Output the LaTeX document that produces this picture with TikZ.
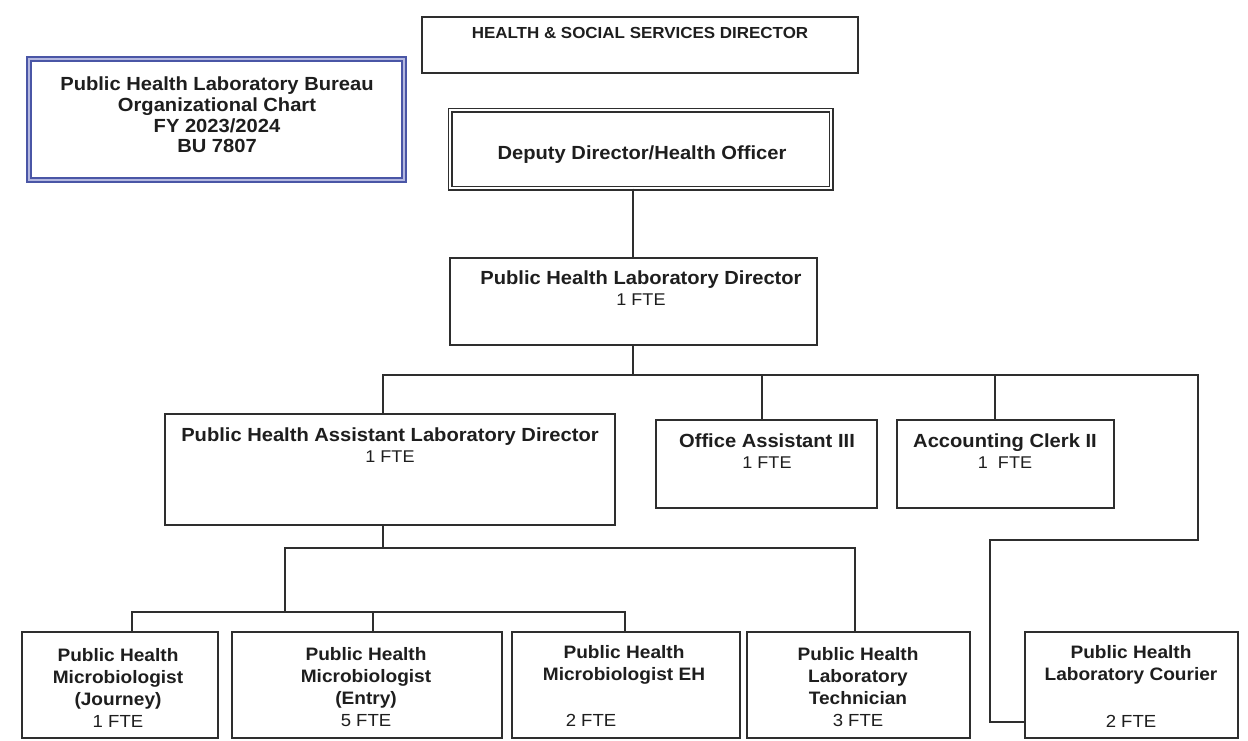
\documentclass[tikz,border=0pt]{standalone}
\usepackage{fontspec}
\setmainfont{Liberation Sans}[FakeStretch=1.06]
\definecolor{ln}{HTML}{2E2E2E}
\definecolor{txt}{HTML}{1E1E1E}
\definecolor{tblue}{HTML}{4A56A6}
\definecolor{tlav}{HTML}{B4B8E0}
\newcommand\fB{\fontsize{19}{21}\selectfont\bfseries}
\newcommand\fT{\fontsize{19}{20.7}\selectfont\bfseries}
\newcommand\fR{\fontsize{17}{21}\selectfont\mdseries}
\newcommand\fS{\fontsize{18}{22}\selectfont\bfseries}
\newcommand\fSR{\fontsize{17.5}{22}\selectfont\mdseries}
\newcommand\fH{\fontsize{16}{19}\selectfont\bfseries}
\tikzset{
  box/.style={draw=ln, line width=1.3pt, inner sep=0pt, fill=white},
  lbl/.style={align=center, inner sep=0pt, text=txt},
  conn/.style={draw=ln, line width=1.3pt}
}
\begin{document}
\begin{tikzpicture}[x=1pt,y=-1pt]
\useasboundingbox[fill=white] (0,0) rectangle (1248,740);
% boxes
\node[draw=tblue, line width=1.9pt, double=tlav, double distance=1.8pt, inner sep=0pt,
      minimum width=375pt, minimum height=121pt] (title) at (216.5,119.5) {};
\node[box, minimum width=436pt, minimum height=56pt] (hss) at (640,45) {};
\node[draw=ln, line width=1.3pt, double=white, double distance=2.4pt, inner sep=0pt,
      minimum width=381pt, minimum height=78pt] (dep) at (640.5,149) {};
\node[box, minimum width=367pt, minimum height=87pt] (phld) at (633.5,301.5) {};
\node[box, minimum width=450pt, minimum height=111pt] (asst) at (390,469.5) {};
\node[box, minimum width=221pt, minimum height=88pt] (office) at (766.5,464) {};
\node[box, minimum width=217pt, minimum height=88pt] (acct) at (1005.5,464) {};
\node[box, minimum width=196pt, minimum height=106pt] (journey) at (120,685) {};
\node[box, minimum width=270pt, minimum height=106pt] (entry) at (367,685) {};
\node[box, minimum width=228pt, minimum height=106pt] (eh) at (626,685) {};
\node[box, minimum width=223pt, minimum height=106pt] (tech) at (858.5,685) {};
\node[box, minimum width=213pt, minimum height=106pt] (courier) at (1131.5,685) {};
% texts
\node[lbl, font=\fT] (titleT) at (217,115) {Public Health Laboratory Bureau\\Organizational Chart\\FY 2023/2024\\BU 7807};
\node[lbl, font=\fH] (hssT) at (640,33) {HEALTH \& SOCIAL SERVICES DIRECTOR};
\node[lbl, font=\fB] (depT) at (642,155) {Deputy Director/Health Officer};
\node[lbl, font=\fB] (phldT) at (641,288) {Public Health Laboratory Director\\{\fR 1 FTE}};
\node[lbl, font=\fB] (asstT) at (390,445.5) {Public Health Assistant Laboratory Director\\{\fR 1 FTE}};
\node[lbl, font=\fB] (officeT) at (767,451.5) {Office Assistant III\\{\fR 1 FTE}};
\node[lbl, font=\fB] (acctT) at (1005,451.5) {Accounting Clerk II\\{\fR 1\ \ FTE}};
\node[lbl, font=\fS] (journeyT) at (118,688) {Public Health\\Microbiologist\\(Journey)\\{\fSR 1 FTE}};
\node[lbl, font=\fS] (entryT) at (366,687.5) {Public Health\\Microbiologist\\(Entry)\\{\fSR 5 FTE}};
\node[lbl, font=\fS] (ehT) at (624,665) {Public Health\\Microbiologist EH};
\node[lbl, font=\fSR] (ehF) at (591,720) {2 FTE};
\node[lbl, font=\fS] (techT) at (858,687.5) {Public Health\\Laboratory\\Technician\\{\fSR 3 FTE}};
\node[lbl, font=\fS] (courierT) at (1131,665) {Public Health\\Laboratory Courier};
\node[lbl, font=\fSR] (courierF) at (1131,721) {2 FTE};
% junction coordinates
\coordinate (b1L) at (383,375);
\coordinate (b1M) at (633,375);
\coordinate (b1R) at (1198,375);
\coordinate (oJ) at (762,375);
\coordinate (aJ) at (995,375);
\coordinate (c1) at (1198,540);
\coordinate (c2) at (990,540);
\coordinate (c3) at (990,722);
\coordinate (a1) at (383,548);
\coordinate (b2L) at (285,548);
\coordinate (b2R) at (855,548);
\coordinate (b3M) at (285,612);
\coordinate (b3L) at (132,612);
\coordinate (b3E) at (373,612);
\coordinate (b3R) at (625,612);
% connectors
\draw[conn] (dep.south -| b1M) -- (b1M |- phld.north);
\draw[conn] (b1M |- phld.south) -- (b1M);
\draw[conn] (b1L |- asst.north) -- (b1L) -- (b1R) -- (c1) -- (c2) -- (c3) -- (c3 -| courier.west);
\draw[conn] (oJ) -- (oJ |- office.north);
\draw[conn] (aJ) -- (aJ |- acct.north);
\draw[conn] (a1 |- asst.south) -- (a1);
\draw[conn] (b3M) -- (b2L) -- (b2R) -- (b2R |- tech.north);
\draw[conn] (b3L |- journey.north) -- (b3L) -- (b3R) -- (b3R |- eh.north);
\draw[conn] (b3E) -- (b3E |- entry.north);
\end{tikzpicture}
\end{document}
